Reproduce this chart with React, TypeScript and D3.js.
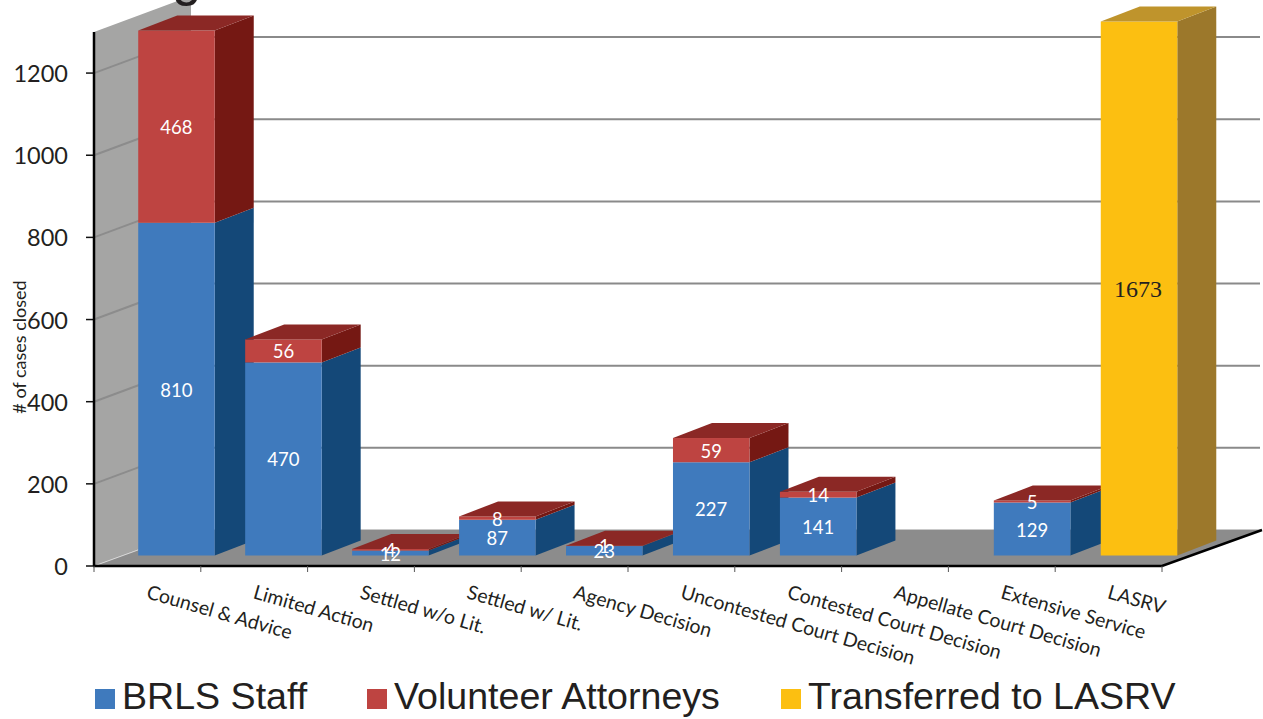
import React from "react";
import * as d3 from "d3";

const categories = ["Counsel & Advice","Limited Action","Settled w/o Lit.","Settled w/ Lit.","Agency Decision","Uncontested Court Decision","Contested Court Decision","Appellate Court Decision","Extensive Service","LASRV"];
const staff = [810,470,12,87,23,227,141,0,129,0];
const volunteers = [468,56,4,8,1,59,14,0,5,0];
const transferred = [0,0,0,0,0,0,0,0,0,1673];
const yTicks = [0,200,400,600,800,1000,1200];
const legendItems = ["BRLS Staff","Volunteer Attorneys","Transferred to LASRV"];

const W = 1263, H = 719;
const left = 94, right = 1162, bottom = 566, top = 32;
const wallDx = 97, wallDy = -36, floorDx = 100;
const barW = 76.5, barDx = 39, barDy = -15, barShiftX = 29, barShiftY = -10.5;
const sans = "Lato, Carlito, Calibri, sans-serif";
const arial = "'Liberation Sans', Arial, sans-serif";

const palette = {
  blue: { front: "#3f7abd", side: "#144878", top: "#2a5f96" },
  red: { front: "#be4441", side: "#751813", top: "#8b2825" },
  yellow: { front: "#fcbf11", side: "#9c782b", top: "#bf942c" },
};

function pts(p: number[][]) { return p.map(d => d.join(",")).join(" "); }

function Seg({ x, y0, y1, c, capped }: any) {
  return (
    <g>
      <polygon points={pts([[x + barW, y0], [x + barW + barDx, y0 + barDy], [x + barW + barDx, y1 + barDy], [x + barW, y1]])} fill={c.side} />
      <rect x={x} y={y1} width={barW} height={y0 - y1} fill={c.front} />
      {capped && <polygon points={pts([[x, y1], [x + barDx, y1 + barDy], [x + barW + barDx, y1 + barDy], [x + barW, y1]])} fill={c.top} />}
    </g>
  );
}

export default function App() {
  const x = d3.scaleBand<string>().domain(categories).range([left, right]);
  const xBar = d3.scaleBand<string>().domain(categories).range([left, right + 1.5]);
  const y = d3.scaleLinear().domain([0, 1300]).range([bottom, top]).clamp(true);
  const barX = (c: string) => (xBar(c) as number) + xBar.step() / 2 - barW / 2 + barShiftX;
  const barY = (v: number) => y(v) + barShiftY;
  const tickXs = d3.range(categories.length + 1).map(i => left + i * x.step());

  return (
    <svg width={W} height={H} viewBox={`0 0 ${W} ${H}`} style={{ position: "absolute", left: 0, top: 0, background: "#fff" }}>
      <polygon points={pts([[left, bottom], [left, top], [left + wallDx, top + wallDy], [left + wallDx, bottom + wallDy]])} fill="#a5a5a4" />
      <text x={172} y={-5} fontFamily={arial} fontSize={53} fill="#231f20">g</text>

      {yTicks.map(t => (
        <g key={t}>
          {t > 0 && <line x1={left} y1={y(t)} x2={left + wallDx} y2={y(t) + wallDy} stroke="#8c8c8c" strokeWidth={2} />}
          <line x1={left + wallDx} y1={y(t) + wallDy} x2={1260} y2={y(t) + wallDy} stroke={t === 0 ? "#c9c9c9" : "#8a8a8a"} strokeWidth={2} />
          <line x1={left - 8} y1={y(t)} x2={left} y2={y(t)} stroke="#111" strokeWidth={1.5} />
          <text x={68} y={y(t)} textAnchor="end" dominantBaseline="central" fontFamily={sans} fontSize={23.5} fill="#231f20">{t}</text>
        </g>
      ))}
      <polygon points={pts([[left, bottom], [right, bottom], [right + floorDx, bottom + wallDy], [left + wallDx, bottom + wallDy]])} fill="#8c8c8c" />
      <line x1={left} y1={bottom} x2={left + 44} y2={bottom - 16} stroke="#d8d8d8" strokeWidth={1} />

      {categories.map((c, i) => {
        const bx = barX(c);
        const s = staff[i], v = volunteers[i], t = transferred[i];
        return (
          <g key={c}>
            {s > 0 && <Seg x={bx} y0={barY(0)} y1={barY(s)} c={palette.blue} />}
            {v > 0 && <Seg x={bx} y0={barY(s)} y1={barY(s + v)} c={palette.red} capped />}
            {t > 0 && <Seg x={bx} y0={barY(0)} y1={barY(t)} c={palette.yellow} capped />}
          </g>
        );
      })}

      {categories.map((c, i) => {
        const cx = barX(c) + barW / 2;
        const s = staff[i], v = volunteers[i], t = transferred[i];
        return (
          <g key={c} fontFamily={sans} fontSize={18.5} fill="#fff" textAnchor="middle" dominantBaseline="central">
            {s > 0 && <text x={cx} y={(barY(0) + barY(s)) / 2 + 0.5}>{s}</text>}
            {v > 0 && <text x={cx} y={(barY(s) + barY(s + v)) / 2 + 0.5}>{v}</text>}
            {t > 0 && <text x={cx - 1} y={289} fontFamily="'Liberation Serif', serif" fontSize={24} fill="#231f20">{t}</text>}
          </g>
        );
      })}

      <line x1={left} y1={top} x2={left} y2={bottom} stroke="#000" strokeWidth={2.5} />
      <polyline points={pts([[left - 1, bottom], [right, bottom], [right + floorDx, bottom + wallDy]])} fill="none" stroke="#000" strokeWidth={2.5} />
      {tickXs.map(tx => <line key={tx} x1={tx} y1={bottom} x2={tx} y2={bottom + 6} stroke="#555" strokeWidth={1} />)}

      {categories.map(c => {
        const cx = (x(c) as number) + x.step() / 2;
        return (
          <text key={c} transform={`translate(${cx - 2},${598}) rotate(16)`} fontFamily={sans} fontSize={19.5} fill="#231f20">{c}</text>
        );
      })}

      <text transform="translate(26,347) rotate(-90)" textAnchor="middle" fontFamily={sans} fontSize={18} fill="#231f20"># of cases closed</text>

      {legendItems.map((l, i) => {
        const sq = [95, 367, 781][i];
        const col = [palette.blue, palette.red, palette.yellow][i].front;
        return (
          <g key={l}>
            <rect x={sq} y={689} width={20} height={20} fill={col} />
            <text x={sq + 27} y={709} fontFamily={arial} fontSize={37.6} fill="#231f20">{l}</text>
          </g>
        );
      })}
    </svg>
  );
}
